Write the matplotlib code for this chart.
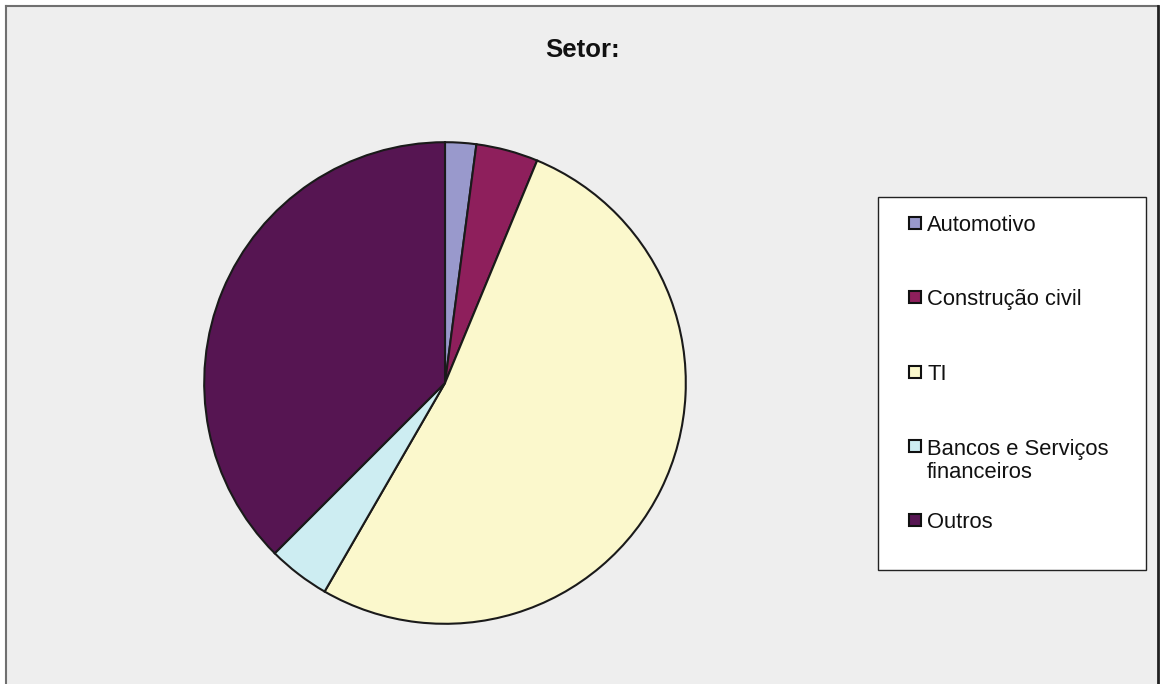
import matplotlib.pyplot as plt
from matplotlib.patches import Rectangle

# data
labels = ['Automotivo', 'Construção civil', 'TI', 'Bancos e Serviços\nfinanceiros', 'Outros']
values = [1, 2, 25, 2, 18]
colors = ['#9999CC', '#8E1F5C', '#FBF8CC', '#CDEDF2', '#561552']

plt.rcParams['font.family'] = ['Liberation Sans', 'DejaVu Sans']

W, H = 1164, 684
fig = plt.figure(figsize=(W / 100, H / 100), dpi=100, facecolor='white')

# background layer in pixel coordinates
bg = fig.add_axes([0, 0, 1, 1])
bg.set_xlim(0, W)
bg.set_ylim(H, 0)
bg.axis('off')
bg.add_patch(Rectangle((6, 6), 1152, H, facecolor='#EEEEEE', edgecolor='none'))
bg.plot([6, 6], [H, 6], color='#707070', lw=1.5)
bg.plot([6, 1158], [6, 6], color='#707070', lw=1.5)
bg.plot([1158, 1158], [6, H], color='#222222', lw=2)

bg.text(583, 50, 'Setor:', ha='center', va='center', fontsize=18.5, fontweight='bold', color='#111111')

# legend
bg.add_patch(Rectangle((878, 197), 268, 373, facecolor='white', edgecolor='#222222', lw=1))
for i, (lab, col) in enumerate(zip(labels, colors)):
    y = 223 + 74.3 * i
    bg.add_patch(Rectangle((909, y - 6), 12, 12, facecolor=col, edgecolor='#111111', lw=1.5))
    extra = lab.count('\n') * 24.5
    bg.text(927, y + 8 + extra, lab, ha='left', va='baseline', fontsize=15.8,
            color='#111111', linespacing=1.15)

# pie
cx, cy, r = 445, 383, 242
ax = fig.add_axes([(cx - r) / W, (H - cy - r) / H, 2 * r / W, 2 * r / H])
ax.pie(values, colors=colors, startangle=90, counterclock=False,
       wedgeprops=dict(edgecolor='#1a1a1a', linewidth=1.5))
ax.set_xlim(-1.005, 1.005)
ax.set_ylim(-1.005, 1.005)
ax.set_aspect('equal')

fig.savefig('out.png', dpi=100, facecolor='white')
